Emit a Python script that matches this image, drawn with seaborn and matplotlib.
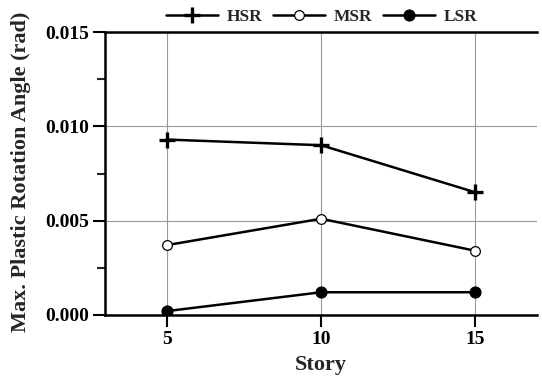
import numpy as np
import pandas as pd
import seaborn as sns
import matplotlib.pyplot as plt
from matplotlib.ticker import MultipleLocator

stories = [5, 10, 15]
hsr = [0.0093, 0.0090, 0.0065]
msr = [0.0037, 0.0051, 0.0034]
lsr = [0.0002, 0.0012, 0.0012]
labels = ["HSR", "MSR", "LSR"]

sns.set_style("white")
plt.rcParams['font.family'] = ['Liberation Serif', 'DejaVu Serif']
plt.rcParams['font.weight'] = 'bold'

df = pd.DataFrame({
    "Story": stories * 3,
    "Angle": hsr + msr + lsr,
    "Series": [l for l in labels for _ in stories],
})

fig = plt.figure(figsize=(5.42, 3.78), dpi=100)
ax = fig.add_axes([0.194, 0.167, 0.797, 0.748])

styles = {
    "HSR": dict(marker="+", markersize=11, markeredgewidth=2.4,
                markeredgecolor="black"),
    "MSR": dict(marker="o", markersize=7, markerfacecolor="white",
                markeredgewidth=0.9, markeredgecolor="black"),
    "LSR": dict(marker="o", markersize=8, markerfacecolor="black",
                markeredgecolor="black"),
}
for name in labels:
    sub = df[df["Series"] == name]
    sns.lineplot(data=sub, x="Story", y="Angle", ax=ax, color="black", lw=1.8,
                 label=name, **styles[name])

ax.set_xlim(3, 17)
ax.set_ylim(0, 0.015)
ax.set_xticks([5, 10, 15])
ax.set_yticks([0.0, 0.005, 0.010, 0.015])
ax.set_yticklabels(["0.000", "0.005", "0.010", "0.015"])
ax.yaxis.set_minor_locator(MultipleLocator(0.0025))
ax.grid(True, which="major", color="#9a9a9a", lw=0.8)
ax.tick_params(axis="both", which="major", direction="out", length=8.5, width=1.5,
               labelsize=14, colors="black", left=True, bottom=True, pad=3)
ax.tick_params(axis="y", which="minor", direction="out", length=6, width=1.5, left=True)
for lab in ax.get_xticklabels() + ax.get_yticklabels():
    lab.set_fontweight("bold")

for side in ["left", "bottom", "top"]:
    ax.spines[side].set_color("black")
    ax.spines[side].set_linewidth(1.8)
ax.spines["right"].set_visible(False)

ax.set_xlabel("Story", fontsize=16, fontweight="bold", labelpad=5)
ax.set_ylabel("Max. Plastic Rotation Angle (rad)", fontsize=16, fontweight="bold")
ax.yaxis.set_label_coords(-0.172, 0.505)

ax.legend(loc="center", bbox_to_anchor=(0.502, 1.055), ncol=3, frameon=False,
          handlelength=3.0, columnspacing=0.6, handletextpad=0.5,
          prop=dict(weight="bold", size=12.5))

fig.savefig("out.png", dpi=100)
